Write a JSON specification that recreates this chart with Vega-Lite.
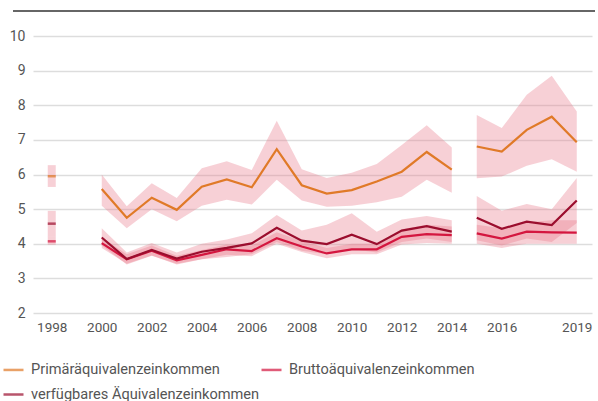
{
  "$schema": "https://vega.github.io/schema/vega-lite/v6.json",
  "width": 559,
  "height": 277,
  "autosize": {"type": "none"},
  "padding": {"left": 33, "top": 36, "right": 6, "bottom": 88},
  "background": "white",
  "config": {
    "view": {"stroke": null},
    "font": "Roboto",
    "axis": {"labelFont": "Roboto", "labelColor": "#555", "labelFontSize": 14, "domain": false, "ticks": false},
    "legend": {"labelFont": "Roboto", "labelColor": "#555", "labelFontSize": 14.6}
  },
  "data": {
    "values": [
      {"year": 1998, "series": "Primäräquivalenzeinkommen", "seg": "a", "value": 5.95, "lo": 5.64, "hi": 6.27},
      {"year": 2000, "series": "Primäräquivalenzeinkommen", "seg": "b", "value": 5.58, "lo": 5.1, "hi": 6.0},
      {"year": 2001, "series": "Primäräquivalenzeinkommen", "seg": "b", "value": 4.75, "lo": 4.45, "hi": 5.08},
      {"year": 2002, "series": "Primäräquivalenzeinkommen", "seg": "b", "value": 5.33, "lo": 5.0, "hi": 5.75},
      {"year": 2003, "series": "Primäräquivalenzeinkommen", "seg": "b", "value": 4.98, "lo": 4.65, "hi": 5.32},
      {"year": 2004, "series": "Primäräquivalenzeinkommen", "seg": "b", "value": 5.65, "lo": 5.1, "hi": 6.18},
      {"year": 2005, "series": "Primäräquivalenzeinkommen", "seg": "b", "value": 5.86, "lo": 5.27, "hi": 6.38},
      {"year": 2006, "series": "Primäräquivalenzeinkommen", "seg": "b", "value": 5.63, "lo": 5.13, "hi": 6.13},
      {"year": 2007, "series": "Primäräquivalenzeinkommen", "seg": "b", "value": 6.73, "lo": 5.85, "hi": 7.55},
      {"year": 2008, "series": "Primäräquivalenzeinkommen", "seg": "b", "value": 5.69, "lo": 5.25, "hi": 6.15},
      {"year": 2009, "series": "Primäräquivalenzeinkommen", "seg": "b", "value": 5.45, "lo": 5.07, "hi": 5.9},
      {"year": 2010, "series": "Primäräquivalenzeinkommen", "seg": "b", "value": 5.55, "lo": 5.1, "hi": 6.05},
      {"year": 2011, "series": "Primäräquivalenzeinkommen", "seg": "b", "value": 5.8, "lo": 5.2, "hi": 6.3},
      {"year": 2012, "series": "Primäräquivalenzeinkommen", "seg": "b", "value": 6.08, "lo": 5.36, "hi": 6.85},
      {"year": 2013, "series": "Primäräquivalenzeinkommen", "seg": "b", "value": 6.65, "lo": 5.85, "hi": 7.42},
      {"year": 2014, "series": "Primäräquivalenzeinkommen", "seg": "b", "value": 6.14, "lo": 5.47, "hi": 6.78},
      {"year": 2015, "series": "Primäräquivalenzeinkommen", "seg": "c", "value": 6.81, "lo": 5.89, "hi": 7.72},
      {"year": 2016, "series": "Primäräquivalenzeinkommen", "seg": "c", "value": 6.66, "lo": 5.94, "hi": 7.34},
      {"year": 2017, "series": "Primäräquivalenzeinkommen", "seg": "c", "value": 7.29, "lo": 6.25, "hi": 8.3},
      {"year": 2018, "series": "Primäräquivalenzeinkommen", "seg": "c", "value": 7.67, "lo": 6.44, "hi": 8.85},
      {"year": 2019, "series": "Primäräquivalenzeinkommen", "seg": "c", "value": 6.93, "lo": 6.08, "hi": 7.82},

      {"year": 1998, "series": "Bruttoäquivalenzeinkommen", "seg": "a", "value": 4.07, "lo": 3.97, "hi": 4.2},
      {"year": 2000, "series": "Bruttoäquivalenzeinkommen", "seg": "b", "value": 4.02, "lo": 3.88, "hi": 4.18},
      {"year": 2001, "series": "Bruttoäquivalenzeinkommen", "seg": "b", "value": 3.55, "lo": 3.42, "hi": 3.7},
      {"year": 2002, "series": "Bruttoäquivalenzeinkommen", "seg": "b", "value": 3.8, "lo": 3.66, "hi": 3.95},
      {"year": 2003, "series": "Bruttoäquivalenzeinkommen", "seg": "b", "value": 3.52, "lo": 3.4, "hi": 3.65},
      {"year": 2004, "series": "Bruttoäquivalenzeinkommen", "seg": "b", "value": 3.68, "lo": 3.55, "hi": 3.82},
      {"year": 2005, "series": "Bruttoäquivalenzeinkommen", "seg": "b", "value": 3.84, "lo": 3.68, "hi": 3.98},
      {"year": 2006, "series": "Bruttoäquivalenzeinkommen", "seg": "b", "value": 3.79, "lo": 3.64, "hi": 3.95},
      {"year": 2007, "series": "Bruttoäquivalenzeinkommen", "seg": "b", "value": 4.16, "lo": 4.0, "hi": 4.33},
      {"year": 2008, "series": "Bruttoäquivalenzeinkommen", "seg": "b", "value": 3.92, "lo": 3.76, "hi": 4.08},
      {"year": 2009, "series": "Bruttoäquivalenzeinkommen", "seg": "b", "value": 3.72, "lo": 3.58, "hi": 3.88},
      {"year": 2010, "series": "Bruttoäquivalenzeinkommen", "seg": "b", "value": 3.84, "lo": 3.7, "hi": 4.0},
      {"year": 2011, "series": "Bruttoäquivalenzeinkommen", "seg": "b", "value": 3.84, "lo": 3.7, "hi": 4.0},
      {"year": 2012, "series": "Bruttoäquivalenzeinkommen", "seg": "b", "value": 4.2, "lo": 3.98, "hi": 4.42},
      {"year": 2013, "series": "Bruttoäquivalenzeinkommen", "seg": "b", "value": 4.28, "lo": 4.02, "hi": 4.55},
      {"year": 2014, "series": "Bruttoäquivalenzeinkommen", "seg": "b", "value": 4.25, "lo": 4.0, "hi": 4.5},
      {"year": 2015, "series": "Bruttoäquivalenzeinkommen", "seg": "c", "value": 4.3, "lo": 4.0, "hi": 4.55},
      {"year": 2016, "series": "Bruttoäquivalenzeinkommen", "seg": "c", "value": 4.15, "lo": 3.88, "hi": 4.45},
      {"year": 2017, "series": "Bruttoäquivalenzeinkommen", "seg": "c", "value": 4.35, "lo": 4.0, "hi": 4.62},
      {"year": 2018, "series": "Bruttoäquivalenzeinkommen", "seg": "c", "value": 4.33, "lo": 4.0, "hi": 4.68},
      {"year": 2019, "series": "Bruttoäquivalenzeinkommen", "seg": "c", "value": 4.32, "lo": 4.0, "hi": 4.68},

      {"year": 1998, "series": "verfügbares Äquivalenzeinkommen", "seg": "a", "value": 4.58, "lo": 4.2, "hi": 4.95},
      {"year": 2000, "series": "verfügbares Äquivalenzeinkommen", "seg": "b", "value": 4.18, "lo": 3.95, "hi": 4.45},
      {"year": 2001, "series": "verfügbares Äquivalenzeinkommen", "seg": "b", "value": 3.56, "lo": 3.4, "hi": 3.75},
      {"year": 2002, "series": "verfügbares Äquivalenzeinkommen", "seg": "b", "value": 3.82, "lo": 3.65, "hi": 4.02},
      {"year": 2003, "series": "verfügbares Äquivalenzeinkommen", "seg": "b", "value": 3.57, "lo": 3.42, "hi": 3.75},
      {"year": 2004, "series": "verfügbares Äquivalenzeinkommen", "seg": "b", "value": 3.77, "lo": 3.55, "hi": 4.0},
      {"year": 2005, "series": "verfügbares Äquivalenzeinkommen", "seg": "b", "value": 3.88, "lo": 3.62, "hi": 4.12},
      {"year": 2006, "series": "verfügbares Äquivalenzeinkommen", "seg": "b", "value": 4.01, "lo": 3.7, "hi": 4.3},
      {"year": 2007, "series": "verfügbares Äquivalenzeinkommen", "seg": "b", "value": 4.46, "lo": 4.05, "hi": 4.83},
      {"year": 2008, "series": "verfügbares Äquivalenzeinkommen", "seg": "b", "value": 4.09, "lo": 3.8, "hi": 4.38},
      {"year": 2009, "series": "verfügbares Äquivalenzeinkommen", "seg": "b", "value": 3.99, "lo": 3.7, "hi": 4.55},
      {"year": 2010, "series": "verfügbares Äquivalenzeinkommen", "seg": "b", "value": 4.26, "lo": 3.85, "hi": 4.88},
      {"year": 2011, "series": "verfügbares Äquivalenzeinkommen", "seg": "b", "value": 3.99, "lo": 3.75, "hi": 4.35},
      {"year": 2012, "series": "verfügbares Äquivalenzeinkommen", "seg": "b", "value": 4.38, "lo": 4.05, "hi": 4.7},
      {"year": 2013, "series": "verfügbares Äquivalenzeinkommen", "seg": "b", "value": 4.51, "lo": 4.15, "hi": 4.8},
      {"year": 2014, "series": "verfügbares Äquivalenzeinkommen", "seg": "b", "value": 4.35, "lo": 4.05, "hi": 4.68},
      {"year": 2015, "series": "verfügbares Äquivalenzeinkommen", "seg": "c", "value": 4.75, "lo": 4.1, "hi": 5.38},
      {"year": 2016, "series": "verfügbares Äquivalenzeinkommen", "seg": "c", "value": 4.43, "lo": 3.95, "hi": 4.95},
      {"year": 2017, "series": "verfügbares Äquivalenzeinkommen", "seg": "c", "value": 4.64, "lo": 4.15, "hi": 5.15},
      {"year": 2018, "series": "verfügbares Äquivalenzeinkommen", "seg": "c", "value": 4.54, "lo": 4.05, "hi": 5.0},
      {"year": 2019, "series": "verfügbares Äquivalenzeinkommen", "seg": "c", "value": 5.25, "lo": 4.6, "hi": 5.9}
    ]
  },
  "encoding": {
    "x": {
      "field": "year", "type": "quantitative",
      "scale": {"domain": [1997.45, 2019.41], "nice": false, "zero": false},
      "axis": {"title": null, "values": [1998, 2000, 2002, 2004, 2006, 2008, 2010, 2012, 2014, 2016, 2019], "format": "d", "grid": false, "labelPadding": 7, "labelFontSize": 13.5}
    }
  },
  "layer": [
    {
      "mark": {"type": "rule", "color": "#666", "strokeWidth": 2},
      "encoding": {
        "x": {"datum": 1996.47, "type": "quantitative"},
        "x2": {"datum": 2019.7},
        "y": {"datum": 10.72, "type": "quantitative", "scale": {"domain": [2, 10], "nice": false, "zero": false},
              "axis": {"title": null, "values": [2, 3, 4, 5, 6, 7, 8, 9, 10], "tickCount": 9, "labelOverlap": false, "grid": true, "gridColor": "#dddddd", "gridWidth": 1.3, "labelPadding": 8}}
      }
    },
    {
      "transform": [{"filter": "datum.seg != 'a'"}],
      "mark": {"type": "area", "color": "#e8778a", "opacity": 0.35},
      "encoding": {
        "y": {"field": "lo", "type": "quantitative", "scale": {"domain": [2, 10], "nice": false, "zero": false},
              "axis": {"title": null, "values": [2, 3, 4, 5, 6, 7, 8, 9, 10], "tickCount": 9, "labelOverlap": false, "grid": true, "gridColor": "#dddddd", "gridWidth": 1.3, "labelPadding": 8}},
        "y2": {"field": "hi"},
        "detail": [{"field": "series"}, {"field": "seg"}]
      }
    },
    {
      "transform": [{"filter": "datum.seg == 'a'"}],
      "mark": {"type": "bar", "color": "#e8778a", "opacity": 0.35, "size": 8},
      "encoding": {
        "y": {"field": "lo", "type": "quantitative", "axis": {"title": null, "values": [2, 3, 4, 5, 6, 7, 8, 9, 10], "tickCount": 9, "labelOverlap": false, "grid": true, "gridColor": "#dddddd", "gridWidth": 1.3, "labelPadding": 8}},
        "y2": {"field": "hi"}
      }
    },
    {
      "transform": [{"filter": "datum.seg != 'a'"}],
      "mark": {"type": "line", "strokeWidth": 2.2},
      "encoding": {
        "y": {"field": "value", "type": "quantitative", "axis": {"title": null, "values": [2, 3, 4, 5, 6, 7, 8, 9, 10], "tickCount": 9, "labelOverlap": false, "grid": true, "gridColor": "#dddddd", "gridWidth": 1.3, "labelPadding": 8}},
        "color": {
          "field": "series", "type": "nominal",
          "sort": ["Primäräquivalenzeinkommen", "Bruttoäquivalenzeinkommen", "verfügbares Äquivalenzeinkommen"],
          "scale": {"domain": ["Primäräquivalenzeinkommen", "Bruttoäquivalenzeinkommen", "verfügbares Äquivalenzeinkommen"], "range": ["#e07a28", "#d4163f", "#9b0e2e"]},
          "legend": {"title": null, "orient": "none", "legendX": -31, "legendY": 322, "direction": "horizontal", "columns": 2, "symbolType": "stroke", "symbolSize": 400, "symbolStrokeWidth": 2.5, "rowPadding": 6, "columnPadding": -26, "labelOffset": 6, "labelLimit": 400}
        },
        "detail": {"field": "seg"}
      }
    },
    {
      "transform": [{"filter": "datum.seg == 'a'"}],
      "mark": {"type": "tick", "orient": "horizontal", "size": 8, "thickness": 2.5},
      "encoding": {
        "y": {"field": "value", "type": "quantitative", "axis": {"title": null, "values": [2, 3, 4, 5, 6, 7, 8, 9, 10], "tickCount": 9, "labelOverlap": false, "grid": true, "gridColor": "#dddddd", "gridWidth": 1.3, "labelPadding": 8}},
        "color": {"field": "series", "type": "nominal"}
      }
    }
  ]
}
